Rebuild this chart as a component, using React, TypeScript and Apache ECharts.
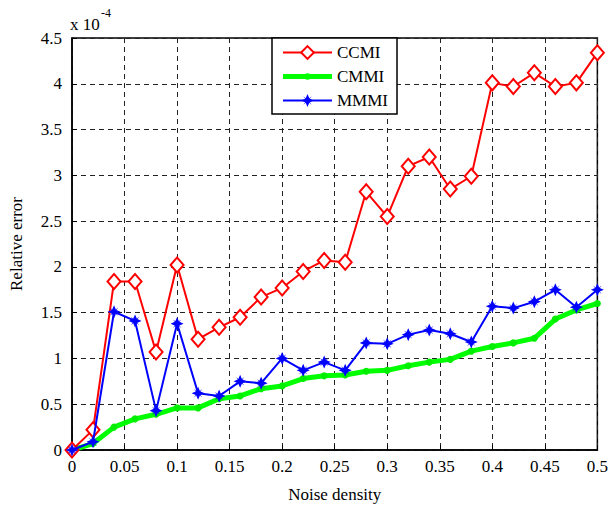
import React, { useEffect, useRef } from "react";
import * as echarts from "echarts";

const noiseDensity = [0, 0.02, 0.04, 0.06, 0.08, 0.1, 0.12, 0.14, 0.16, 0.18, 0.2, 0.22, 0.24, 0.26, 0.28, 0.3, 0.32, 0.34, 0.36, 0.38, 0.4, 0.42, 0.44, 0.46, 0.48, 0.5];
const ccmi = [0, 0.22, 1.84, 1.84, 1.07, 2.02, 1.21, 1.34, 1.45, 1.67, 1.77, 1.95, 2.07, 2.05, 2.82, 2.55, 3.1, 3.2, 2.85, 2.99, 4.01, 3.97, 4.12, 3.97, 4.01, 4.34];
const cmmi = [0, 0.07, 0.25, 0.34, 0.39, 0.46, 0.46, 0.56, 0.59, 0.67, 0.7, 0.78, 0.81, 0.82, 0.86, 0.87, 0.92, 0.96, 0.99, 1.08, 1.13, 1.17, 1.22, 1.43, 1.53, 1.6];
const mmmi = [0, 0.09, 1.51, 1.41, 0.43, 1.38, 0.62, 0.59, 0.75, 0.73, 1.0, 0.87, 0.96, 0.87, 1.17, 1.16, 1.26, 1.31, 1.27, 1.18, 1.57, 1.55, 1.62, 1.75, 1.56, 1.75];
const seriesNames = ["CCMI", "CMMI", "MMMI"];

const FONT = "Liberation Serif";
const STAR = "path://M0,-10 L2.8,-3.6 L6.5,-6.5 L3.6,-2.8 L10,0 L3.6,2.8 L6.5,6.5 L2.8,3.6 L0,10 L-2.8,3.6 L-6.5,6.5 L-3.6,2.8 L-10,0 L-3.6,-2.8 L-6.5,-6.5 L-2.8,-3.6 Z";
const GREEN_ICON = "path://M0,0 L0,0 M49,16 L49,16 M0,5.5 L49,5.5 L49,10.5 L0,10.5 Z M21.3,8 A3.2,3.2 0 1 1 27.7,8 A3.2,3.2 0 1 1 21.3,8 Z";

const pairs = (ys: number[]) => noiseDensity.map((x, i) => [x, ys[i]]);

export default function App() {
  const ref = useRef<HTMLDivElement>(null);
  useEffect(() => {
    const chart = echarts.init(ref.current!, null, { renderer: "svg" });
    const gridLine = { show: true, lineStyle: { color: "#222", type: [5, 4] as any, width: 1 } };
    const lbl = { fontFamily: FONT, fontSize: 17, color: "#000" };
    chart.setOption({
      animation: false,
      backgroundColor: "#fff",
      grid: { left: 69, top: 38, width: 531, height: 413, show: true, borderColor: "#000", borderWidth: 1.5, backgroundColor: "transparent" },
      legend: {
        orient: "vertical",
        left: 272,
        top: 38,
        data: [
          { name: seriesNames[0] },
          { name: seriesNames[1], icon: GREEN_ICON, itemStyle: { color: "#00ff00", borderWidth: 0 } },
          { name: seriesNames[2] },
        ],
        itemWidth: 49,
        itemHeight: 16,
        itemGap: 7,
        padding: [6, 9, 5, 10],
        borderColor: "#000",
        borderWidth: 1.5,
        backgroundColor: "#fff",
        textStyle: { ...lbl, fontSize: 17 },
      },
      xAxis: {
        type: "value",
        min: 0,
        max: 0.5,
        interval: 0.05,
        name: "Noise density",
        nameLocation: "middle",
        nameGap: 36,
        nameTextStyle: lbl,
        axisLine: { show: true, lineStyle: { color: "#000", width: 1.5 } },
        axisTick: { show: true, inside: true, length: 5, lineStyle: { color: "#000" } },
        axisLabel: { ...lbl, margin: 8, formatter: (v: number) => String(parseFloat(v.toFixed(2))) },
        splitLine: gridLine,
      },
      yAxis: {
        type: "value",
        min: 0,
        max: 4.5,
        interval: 0.5,
        name: "Relative error",
        nameLocation: "middle",
        nameGap: 47,
        nameTextStyle: lbl,
        axisLine: { show: true, lineStyle: { color: "#000", width: 1.5 } },
        axisTick: { show: true, inside: true, length: 5, lineStyle: { color: "#000" } },
        axisLabel: { ...lbl, margin: 10, formatter: (v: number) => String(parseFloat(v.toFixed(2))) },
        splitLine: gridLine,
      },
      graphic: [
        {
          type: "text",
          left: 70,
          top: 16,
          style: { text: "x 10", fontFamily: FONT, fontSize: 17, fill: "#000" },
        },
        {
          type: "text",
          left: 101,
          top: 7,
          style: { text: "-4", fontFamily: FONT, fontSize: 12, fill: "#000" },
        },
      ],
      series: [
        {
          name: "CCMI",
          type: "line",
          data: pairs(ccmi),
          symbol: "diamond",
          symbolSize: [13, 15],
          lineStyle: { color: "#ff0000", width: 2 },
          itemStyle: { color: "#fff", borderColor: "#ff0000", borderWidth: 2 },
          z: 3,
        },
        {
          name: "CMMI",
          type: "line",
          data: pairs(cmmi),
          symbol: "circle",
          symbolSize: 7,
          lineStyle: { color: "#00ff00", width: 5 },
          itemStyle: { color: "#00ee00" },
          z: 2,
        },
        {
          name: "MMMI",
          type: "line",
          data: pairs(mmmi),
          symbol: STAR,
          symbolSize: 13,
          lineStyle: { color: "#0000ff", width: 2 },
          itemStyle: { color: "#0000ff" },
          z: 4,
        },
      ],
    });
    return () => chart.dispose();
  }, []);
  return <div ref={ref} style={{ position: "fixed", left: 0, top: 0, width: 611, height: 508 }} />;
}
